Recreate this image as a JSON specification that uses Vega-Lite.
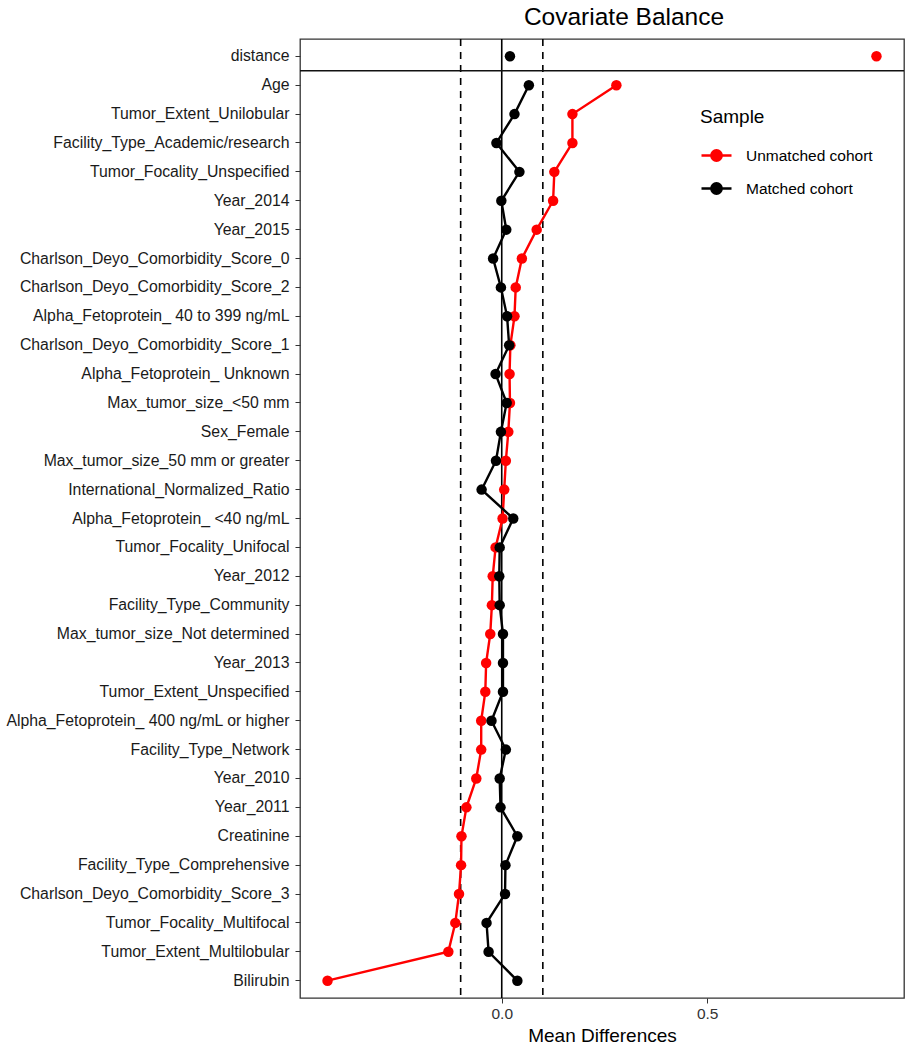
{
  "$schema": "https://vega.github.io/schema/vega-lite/v6.json",
  "autosize": {"type": "none"},
  "padding": {"left": 300, "top": 39, "right": 6, "bottom": 52},
  "width": 604,
  "height": 959,
  "background": "white",
  "title": {"text": "Covariate Balance", "fontSize": 24.5, "font": "Liberation Sans", "fontWeight": "normal", "color": "black", "anchor": "middle", "frame": "group", "offset": 8, "dx": 22},
  "datasets": {
    "balance": [
      {"i": 0, "var": "distance", "sample": "Unmatched cohort", "diff": 0.912},
      {"i": 1, "var": "Age", "sample": "Unmatched cohort", "diff": 0.279},
      {"i": 2, "var": "Tumor_Extent_Unilobular", "sample": "Unmatched cohort", "diff": 0.172},
      {"i": 3, "var": "Facility_Type_Academic/research", "sample": "Unmatched cohort", "diff": 0.172},
      {"i": 4, "var": "Tumor_Focality_Unspecified", "sample": "Unmatched cohort", "diff": 0.128},
      {"i": 5, "var": "Year_2014", "sample": "Unmatched cohort", "diff": 0.125},
      {"i": 6, "var": "Year_2015", "sample": "Unmatched cohort", "diff": 0.085},
      {"i": 7, "var": "Charlson_Deyo_Comorbidity_Score_0", "sample": "Unmatched cohort", "diff": 0.049},
      {"i": 8, "var": "Charlson_Deyo_Comorbidity_Score_2", "sample": "Unmatched cohort", "diff": 0.034},
      {"i": 9, "var": "Alpha_Fetoprotein_ 40 to 399 ng/mL", "sample": "Unmatched cohort", "diff": 0.031},
      {"i": 10, "var": "Charlson_Deyo_Comorbidity_Score_1", "sample": "Unmatched cohort", "diff": 0.021},
      {"i": 11, "var": "Alpha_Fetoprotein_ Unknown", "sample": "Unmatched cohort", "diff": 0.019},
      {"i": 12, "var": "Max_tumor_size_<50 mm", "sample": "Unmatched cohort", "diff": 0.020},
      {"i": 13, "var": "Sex_Female", "sample": "Unmatched cohort", "diff": 0.016},
      {"i": 14, "var": "Max_tumor_size_50 mm or greater", "sample": "Unmatched cohort", "diff": 0.010},
      {"i": 15, "var": "International_Normalized_Ratio", "sample": "Unmatched cohort", "diff": 0.006},
      {"i": 16, "var": "Alpha_Fetoprotein_ <40 ng/mL", "sample": "Unmatched cohort", "diff": 0.002},
      {"i": 17, "var": "Tumor_Focality_Unifocal", "sample": "Unmatched cohort", "diff": -0.015},
      {"i": 18, "var": "Year_2012", "sample": "Unmatched cohort", "diff": -0.022},
      {"i": 19, "var": "Facility_Type_Community", "sample": "Unmatched cohort", "diff": -0.024},
      {"i": 20, "var": "Max_tumor_size_Not determined", "sample": "Unmatched cohort", "diff": -0.028},
      {"i": 21, "var": "Year_2013", "sample": "Unmatched cohort", "diff": -0.038},
      {"i": 22, "var": "Tumor_Extent_Unspecified", "sample": "Unmatched cohort", "diff": -0.040},
      {"i": 23, "var": "Alpha_Fetoprotein_ 400 ng/mL or higher", "sample": "Unmatched cohort", "diff": -0.050},
      {"i": 24, "var": "Facility_Type_Network", "sample": "Unmatched cohort", "diff": -0.050},
      {"i": 25, "var": "Year_2010", "sample": "Unmatched cohort", "diff": -0.062},
      {"i": 26, "var": "Year_2011", "sample": "Unmatched cohort", "diff": -0.086},
      {"i": 27, "var": "Creatinine", "sample": "Unmatched cohort", "diff": -0.098},
      {"i": 28, "var": "Facility_Type_Comprehensive", "sample": "Unmatched cohort", "diff": -0.099},
      {"i": 29, "var": "Charlson_Deyo_Comorbidity_Score_3", "sample": "Unmatched cohort", "diff": -0.104},
      {"i": 30, "var": "Tumor_Focality_Multifocal", "sample": "Unmatched cohort", "diff": -0.113},
      {"i": 31, "var": "Tumor_Extent_Multilobular", "sample": "Unmatched cohort", "diff": -0.130},
      {"i": 32, "var": "Bilirubin", "sample": "Unmatched cohort", "diff": -0.424},
      {"i": 0, "var": "distance", "sample": "Matched cohort", "diff": 0.020},
      {"i": 1, "var": "Age", "sample": "Matched cohort", "diff": 0.066},
      {"i": 2, "var": "Tumor_Extent_Unilobular", "sample": "Matched cohort", "diff": 0.031},
      {"i": 3, "var": "Facility_Type_Academic/research", "sample": "Matched cohort", "diff": -0.013},
      {"i": 4, "var": "Tumor_Focality_Unspecified", "sample": "Matched cohort", "diff": 0.043},
      {"i": 5, "var": "Year_2014", "sample": "Matched cohort", "diff": -0.001},
      {"i": 6, "var": "Year_2015", "sample": "Matched cohort", "diff": 0.011},
      {"i": 7, "var": "Charlson_Deyo_Comorbidity_Score_0", "sample": "Matched cohort", "diff": -0.021},
      {"i": 8, "var": "Charlson_Deyo_Comorbidity_Score_2", "sample": "Matched cohort", "diff": -0.002},
      {"i": 9, "var": "Alpha_Fetoprotein_ 40 to 399 ng/mL", "sample": "Matched cohort", "diff": 0.013},
      {"i": 10, "var": "Charlson_Deyo_Comorbidity_Score_1", "sample": "Matched cohort", "diff": 0.018},
      {"i": 11, "var": "Alpha_Fetoprotein_ Unknown", "sample": "Matched cohort", "diff": -0.015},
      {"i": 12, "var": "Max_tumor_size_<50 mm", "sample": "Matched cohort", "diff": 0.012},
      {"i": 13, "var": "Sex_Female", "sample": "Matched cohort", "diff": -0.002},
      {"i": 14, "var": "Max_tumor_size_50 mm or greater", "sample": "Matched cohort", "diff": -0.014},
      {"i": 15, "var": "International_Normalized_Ratio", "sample": "Matched cohort", "diff": -0.049},
      {"i": 16, "var": "Alpha_Fetoprotein_ <40 ng/mL", "sample": "Matched cohort", "diff": 0.028},
      {"i": 17, "var": "Tumor_Focality_Unifocal", "sample": "Matched cohort", "diff": -0.005},
      {"i": 18, "var": "Year_2012", "sample": "Matched cohort", "diff": -0.006},
      {"i": 19, "var": "Facility_Type_Community", "sample": "Matched cohort", "diff": -0.005},
      {"i": 20, "var": "Max_tumor_size_Not determined", "sample": "Matched cohort", "diff": 0.003},
      {"i": 21, "var": "Year_2013", "sample": "Matched cohort", "diff": 0.003},
      {"i": 22, "var": "Tumor_Extent_Unspecified", "sample": "Matched cohort", "diff": 0.003},
      {"i": 23, "var": "Alpha_Fetoprotein_ 400 ng/mL or higher", "sample": "Matched cohort", "diff": -0.025},
      {"i": 24, "var": "Facility_Type_Network", "sample": "Matched cohort", "diff": 0.010},
      {"i": 25, "var": "Year_2010", "sample": "Matched cohort", "diff": -0.005},
      {"i": 26, "var": "Year_2011", "sample": "Matched cohort", "diff": -0.003},
      {"i": 27, "var": "Creatinine", "sample": "Matched cohort", "diff": 0.038},
      {"i": 28, "var": "Facility_Type_Comprehensive", "sample": "Matched cohort", "diff": 0.009},
      {"i": 29, "var": "Charlson_Deyo_Comorbidity_Score_3", "sample": "Matched cohort", "diff": 0.008},
      {"i": 30, "var": "Tumor_Focality_Multifocal", "sample": "Matched cohort", "diff": -0.037},
      {"i": 31, "var": "Tumor_Extent_Multilobular", "sample": "Matched cohort", "diff": -0.032},
      {"i": 32, "var": "Bilirubin", "sample": "Matched cohort", "diff": 0.038}
    ],
    "thresholds": [{"x": -0.1}, {"x": 0.1}],
    "zero": [{"x": 0}],
    "divider": [{"var": "Age"}]
  },
  "layer": [
    {
      "data": {"name": "thresholds"},
      "mark": {"type": "rule", "color": "black", "strokeWidth": 1.6, "strokeDash": [7, 6]},
      "encoding": {"x": {"field": "x", "type": "quantitative", "scale": {"domain": [-0.491, 0.979], "nice": false, "zero": false}, "axis": {"values": [0, 0.5], "format": ".1f", "title": "Mean Differences"}}}
    },
    {
      "data": {"name": "zero"},
      "mark": {"type": "rule", "color": "black", "strokeWidth": 1.6},
      "encoding": {"x": {"field": "x", "type": "quantitative"}}
    },
    {
      "data": {"name": "divider"},
      "mark": {"type": "rule", "color": "#111", "strokeWidth": 1.6},
      "encoding": {"y": {"field": "var", "type": "nominal", "bandPosition": 0, "sort": {"field": "i", "op": "min"}}}
    },
    {
      "data": {"name": "balance"},
      "transform": [{"filter": "datum.var != 'distance'"}],
      "mark": {"type": "line", "strokeWidth": 2.4},
      "encoding": {
        "x": {"field": "diff", "type": "quantitative"},
        "y": {"field": "var", "type": "nominal", "sort": {"field": "i", "op": "min"}},
        "order": {"field": "i", "type": "quantitative"},
        "color": {
          "field": "sample", "type": "nominal",
          "scale": {"domain": ["Unmatched cohort", "Matched cohort"], "range": ["#FF0000", "#000000"]},
          "legend": {
            "title": "Sample", "orient": "none", "legendX": 400, "legendY": 69,
            "symbolType": "M-1,0L1,0M-0.34,0A0.34,0.34,0,1,1,0.34,0A0.34,0.34,0,1,1,-0.34,0M-0.24,0A0.24,0.24,0,1,1,0.24,0A0.24,0.24,0,1,1,-0.24,0M-0.14,0A0.14,0.14,0,1,1,0.14,0A0.14,0.14,0,1,1,-0.14,0M-0.05,0A0.05,0.05,0,1,1,0.05,0A0.05,0.05,0,1,1,-0.05,0",
            "symbolSize": 900, "symbolStrokeWidth": 2.6,
            "labelFontSize": 15.5, "titleFontSize": 19, "titleFontWeight": "normal",
            "labelFont": "Liberation Sans", "titleFont": "Liberation Sans",
            "labelColor": "black", "titleColor": "black",
            "rowPadding": 6, "labelOffset": 13, "titlePadding": 12, "padding": 0
          }
        }
      }
    },
    {
      "data": {"name": "balance"},
      "mark": {"type": "point", "filled": true, "size": 110, "opacity": 1},
      "encoding": {
        "x": {"field": "diff", "type": "quantitative", "axis": {"values": [0, 0.5], "format": ".1f", "title": "Mean Differences"}},
        "y": {"field": "var", "type": "nominal", "sort": {"field": "i", "op": "min"}, "title": null},
        "color": {"field": "sample", "type": "nominal", "legend": null}
      }
    }
  ],
  "resolve": {"scale": {"y": "shared", "x": "shared"}},
  "config": {
    "view": {"stroke": "#333", "strokeWidth": 1.3},
    "scale": {"bandPaddingInner": 0, "bandPaddingOuter": 0.1},
    "axisX": {"labelFontSize": 15.5, "labelFont": "Liberation Sans", "labelColor": "#333", "tickSize": 5, "tickColor": "#333", "labelPadding": 3, "domain": false, "grid": false, "titleFontSize": 19, "titleFont": "Liberation Sans", "titleFontWeight": "normal", "titleColor": "black", "titlePadding": 5},
    "axisY": {"labelFontSize": 15.8, "labelFont": "Liberation Sans", "labelColor": "#1a1a1a", "tickSize": 5, "tickColor": "#333", "labelPadding": 6, "labelLimit": 400, "domain": false, "grid": false, "title": null}
  }
}
